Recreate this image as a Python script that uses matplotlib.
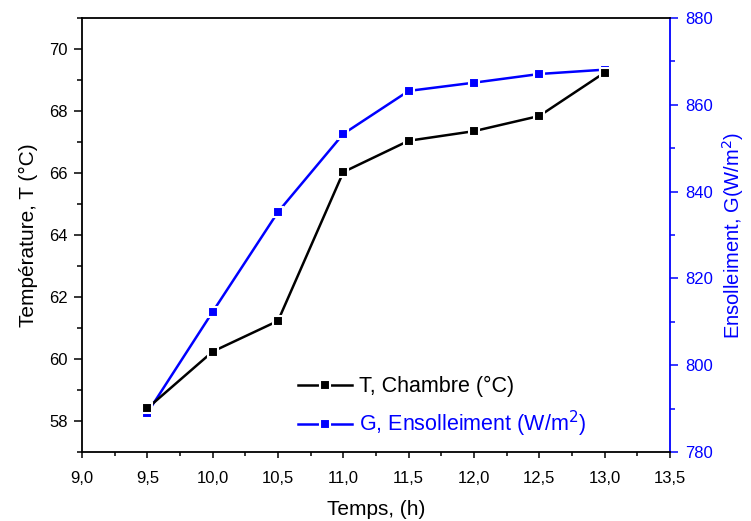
import matplotlib
matplotlib.use('Agg')
import matplotlib.pyplot as plt
from matplotlib.ticker import MultipleLocator, FuncFormatter

plt.rcParams['font.family'] = ['Liberation Sans', 'DejaVu Sans']

temps = [9.5, 10.0, 10.5, 11.0, 11.5, 12.0, 12.5, 13.0]
t_chambre = [58.41, 60.24, 61.23, 66.03, 67.04, 67.35, 67.84, 69.24]
g_ensol = [789.0, 812.3, 835.3, 853.3, 863.2, 865.1, 867.1, 868.1]

comma = FuncFormatter(lambda v, p: ('%.1f' % v).replace('.', ','))

fig = plt.figure(figsize=(7.51, 5.21), dpi=100)
ax = fig.add_axes([82/751, 69/521, 588/751, 434/521])
ax2 = ax.twinx()

l1, = ax.plot(temps, t_chambre, color='black', lw=1.8, marker='s', ms=7,
              mfc='black', mec='white', mew=1.5, label='T, Chambre (°C)', zorder=3)
l2, = ax2.plot(temps, g_ensol, color='blue', lw=1.8, marker='s', ms=7,
               mfc='blue', mec='white', mew=1.5, label='G, Ensolleiment (W/m$^2$)')
ax.set_zorder(ax2.get_zorder() + 1)
ax.patch.set_visible(False)

ax.set_xlim(9.0, 13.5)
ax.set_ylim(57, 71)
ax2.set_ylim(780, 880)

ax.xaxis.set_major_locator(MultipleLocator(0.5))
ax.xaxis.set_minor_locator(MultipleLocator(0.25))
ax.xaxis.set_major_formatter(comma)
ax.yaxis.set_major_locator(MultipleLocator(2))
ax.yaxis.set_minor_locator(MultipleLocator(1))
ax2.yaxis.set_major_locator(MultipleLocator(20))
ax2.yaxis.set_minor_locator(MultipleLocator(10))

ax.tick_params(axis='y', which='major', direction='out', length=6, width=1.1, labelsize=12, pad=4)
ax.tick_params(axis='y', which='minor', direction='out', length=3.5, width=1.1)
ax.tick_params(axis='x', which='major', direction='out', length=4, width=1.1, labelsize=12, pad=10)
ax.tick_params(axis='x', which='minor', direction='out', length=2.8, width=1.1)
ax.tick_params(axis='y', right=False, which='both')
ax.tick_params(axis='x', top=False, which='both')
ax2.tick_params(which='major', direction='out', length=6, width=1.1, colors='blue',
                labelsize=12, pad=5)
ax2.tick_params(which='minor', direction='out', length=3.5, width=1.1, colors='blue')

for s in ax.spines.values():
    s.set_linewidth(1.3)
ax.spines['right'].set_visible(False)
for k in ['left', 'top', 'bottom']:
    ax2.spines[k].set_visible(False)
ax2.spines['right'].set_color('blue')
ax2.spines['right'].set_linewidth(1.3)

ax.set_xlabel('Temps, (h)', fontsize=15, labelpad=10)
ax.set_ylabel('Température, T (°C)', fontsize=15, labelpad=8)
ax2.set_ylabel('Ensolleiment, G(W/m$^2$)', fontsize=14.5, color='blue', labelpad=5)

ax.legend(handles=[l1, l2], loc='lower left', bbox_to_anchor=(0.335, -0.015),
          frameon=False, fontsize=15.5, labelcolor=['black', 'blue'],
          handlelength=2.5, handletextpad=0.3, labelspacing=0.55)

fig.savefig('out.png', dpi=100)
